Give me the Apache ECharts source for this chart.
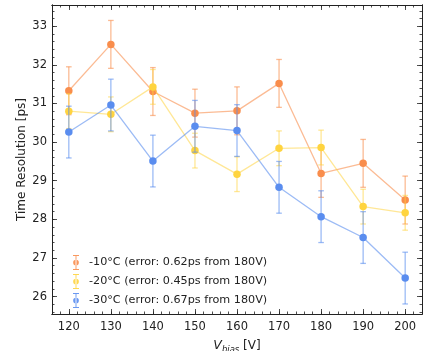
<!DOCTYPE html>
<html><head><meta charset="utf-8">
<script src="https://cdn.jsdelivr.net/npm/echarts@6/dist/echarts.min.js"></script>
<style>html,body{margin:0;padding:0;background:#fff}#c{width:426px;height:351px}</style>
</head><body><div id="c"></div>
<script>
const voltages = [120,130,140,150,160,170,180,190,200];
const t10 = [31.33,32.53,31.31,30.75,30.81,31.52,29.19,29.45,28.50];
const t20 = [30.80,30.72,31.43,29.78,29.17,29.84,29.86,28.33,28.17];
const t30 = [30.26,30.96,29.51,30.41,30.30,28.83,28.07,27.53,26.48];
const err10 = 0.62, err20 = 0.45, err30 = 0.67;
const names = ['-10°C (error: 0.62ps from 180V)','-20°C (error: 0.45ps from 180V)','-30°C (error: 0.67ps from 180V)'];
const colors = ['#f98d4c','#ffd43f','#5a8def'];
const lineColors = ['rgba(249,141,76,0.6)','rgba(255,212,63,0.55)','rgba(90,141,239,0.6)'];
const xTicks = [120,130,140,150,160,170,180,190,200];
const yTicks = [26,27,28,29,30,31,32,33];
const xMin = 116, xMax = 204, yMin = 25.55, yMax = 33.55;
const xMinor = []; for (let v = 116; v <= 204; v += 2) xMinor.push(v);
const yMinor = []; for (let k = 128; k <= 167; k++) yMinor.push(+(k*0.2).toFixed(1));

const font = 'DejaVu Sans';
const axCol = '#222';
function xa(pos, ticks, len, labels) {
  return {type:'value', min:xMin, max:xMax, position:pos, gridIndex:0,
    axisLine:{show:true, onZero:false, lineStyle:{color:axCol, width:1}},
    axisTick:{show:true, inside:true, length:len, customValues:ticks, lineStyle:{color:axCol, width:0.8}},
    axisLabel:{show:labels, customValues:xTicks, color:'#222', fontFamily:font, fontSize:11.5, margin:7},
    splitLine:{show:false}};
}
function ya(pos, ticks, len, labels) {
  return {type:'value', min:yMin, max:yMax, position:pos, gridIndex:0,
    axisLine:{show:true, onZero:false, lineStyle:{color:axCol, width:1}},
    axisTick:{show:true, inside:true, length:len, customValues:ticks, lineStyle:{color:axCol, width:0.8}},
    axisLabel:{show:labels, customValues:yTicks, color:'#222', fontFamily:font, fontSize:11.5, margin:5},
    splitLine:{show:false}};
}
const xAxes = [xa('bottom', xTicks, 5, true), xa('bottom', xMinor, 2.5, false), xa('top', xTicks, 5, false), xa('top', xMinor, 2.5, false)];
xAxes[0].name = '{i|V}{s|bias} [V]';
xAxes[0].nameLocation = 'middle';
xAxes[0].nameGap = 24;
xAxes[0].nameTextStyle = {fontFamily:font, fontSize:12, color:'#222', rich:{i:{fontStyle:'italic', fontSize:12.5, fontFamily:font, color:'#222'}, s:{fontStyle:'italic', fontSize:8.5, fontFamily:font, color:'#222', padding:[7,0,0,0]}}};
const yAxes = [ya('left', yTicks, 5, true), ya('left', yMinor, 2.5, false), ya('right', yTicks, 5, false), ya('right', yMinor, 2.5, false)];
yAxes[0].name = 'Time Resolution [ps]';
yAxes[0].nameLocation = 'middle';
yAxes[0].nameGap = 24;
yAxes[0].nameMoveOverlap = false;
yAxes[0].nameTextStyle = {fontFamily:font, fontSize:12, color:'#222'};

const tsets = [t10, t20, t30];
const errs = [err10, err20, err30];
const series = [];
tsets.forEach((ts, i) => {
  const data = voltages.map((v, j) => [v, ts[j], errs[i]]);
  series.push({
    type:'custom', name:names[i], xAxisIndex:0, yAxisIndex:0, z:2+i*3, silent:true,
    itemStyle:{color:colors[i]},
    renderItem:(params, api) => {
      const x = api.value(0), y = api.value(1), e = api.value(2);
      const top = api.coord([x, y + e]), bot = api.coord([x, y - e]);
      const hw = 2.8;
      const st = {stroke:lineColors[i], lineWidth:1.3};
      return {type:'group', children:[
        {type:'line', shape:{x1:top[0], y1:top[1], x2:bot[0], y2:bot[1]}, style:st},
        {type:'line', shape:{x1:top[0]-hw, y1:top[1], x2:top[0]+hw, y2:top[1]}, style:st},
        {type:'line', shape:{x1:bot[0]-hw, y1:bot[1], x2:bot[0]+hw, y2:bot[1]}, style:st}
      ]};
    },
    encode:{x:0, y:1},
    data:data
  });
  series.push({
    type:'line', name:'line' + i, xAxisIndex:0, yAxisIndex:0, z:3+i*3, silent:true,
    data:voltages.map((v, j) => [v, ts[j]]),
    symbol:'circle', symbolSize:7.5, showSymbol:true,
    itemStyle:{color:colors[i]},
    lineStyle:{color:lineColors[i], width:1.3},
    emphasis:{disabled:true}
  });
});

const legendIcon = 'path://M1,0 L9,0 L9,1.2 L5.6,1.2 L5.6,18.8 L9,18.8 L9,20 L1,20 L1,18.8 L4.4,18.8 L4.4,1.2 L1,1.2 Z M5,6.2 A3.8,3.8 0 1 0 5,13.8 A3.8,3.8 0 1 0 5,6.2 Z';
const chart = echarts.init(document.getElementById('c'), null, {renderer:'canvas'});
chart.setOption({
  animation:false,
  backgroundColor:'#fff',
  grid:{left:52, right:4, top:5, bottom:37, containLabel:false, outerBoundsMode:'none'},
  xAxis:xAxes, yAxis:yAxes,
  legend:{
    left:68, top:250, orient:'vertical', itemGap:4, itemWidth:8, itemHeight:15,
    icon:legendIcon,
    data:names.map((n, i) => ({name:n, itemStyle:{color:colors[i], opacity:0.9}})),
    textStyle:{fontFamily:font, fontSize:11.2, color:'#222', padding:[0,0,0,4]},
    selectedMode:false
  },
  series:series
});
</script></body></html>
